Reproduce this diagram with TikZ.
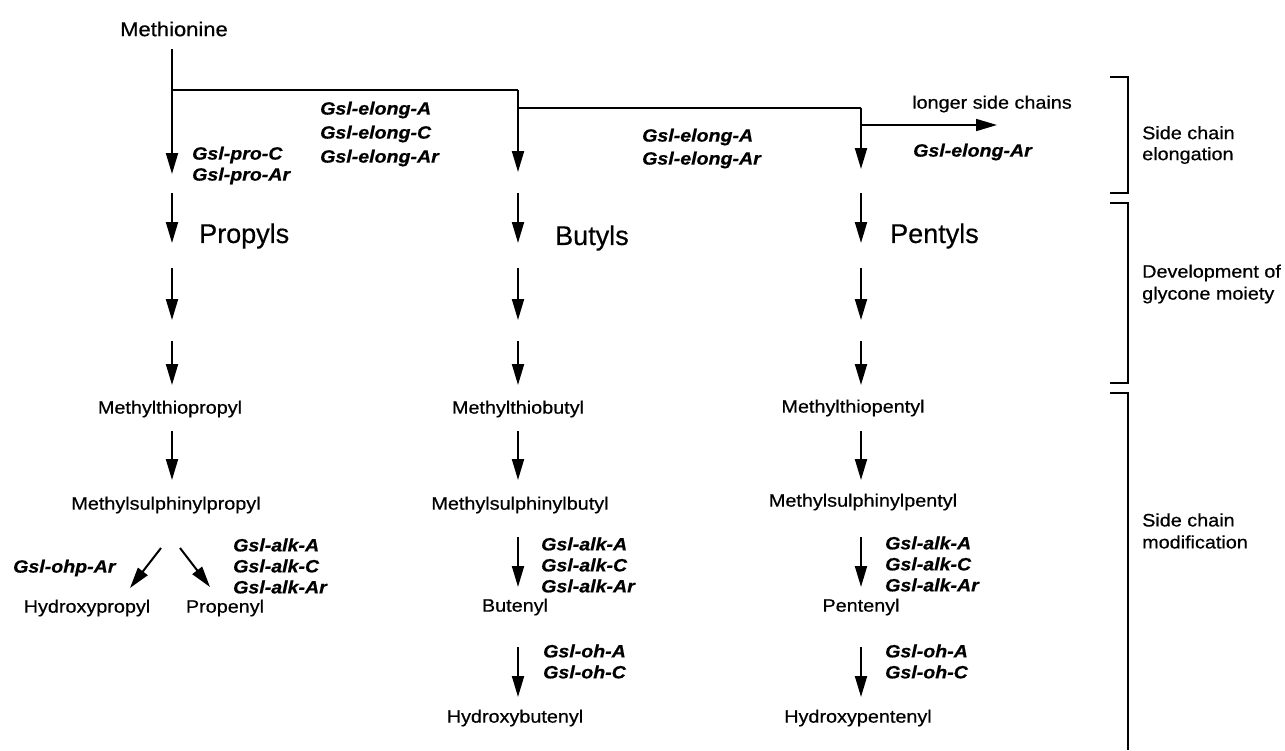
\documentclass[tikz,border=0pt]{standalone}
\usepackage{fontspec}
\setmainfont{Liberation Sans}
\newfontfamily\wide{Liberation Sans}[FakeStretch=1.1,FakeBold=0.6]
\newfontfamily\bigf{Liberation Sans}[FakeBold=0.4]
\usetikzlibrary{arrows.meta}
\tikzset{
  lbl/.style={inner sep=0pt, font=\wide\fontsize{18}{20}\selectfont},
  big/.style={inner sep=0pt, anchor=west, font=\bigf\fontsize{27}{30}\selectfont},
  gene/.style={inner sep=0pt, anchor=west, align=left, font=\wide\fontsize{17.8}{#1}\selectfont\bfseries\itshape},
  gene/.default=21,
  side/.style={inner sep=0pt, anchor=west, align=left, font=\wide\fontsize{18}{#1}\selectfont},
  side/.default=21,
  arr/.style={line width=2pt, -{Triangle[length=21pt,width=12pt]}},
  branch/.style={line width=1.7pt},
  brack/.style={line width=2pt},
}
\begin{document}
\begin{tikzpicture}[x=1pt,y=-1pt]
\useasboundingbox (0,0) rectangle (1285,750);
% texts
\node[lbl, font=\wide\fontsize{20}{22}\selectfont] (meth) at (174,29) {Methionine};
\node[big] (propyls) at (199,236) {Propyls};
\node[big] (butyls) at (555,238) {Butyls};
\node[big] (pentyls) at (890,236) {Pentyls};
\node[lbl] (mtp) at (170,409) {Methylthiopropyl};
\node[lbl] (mtb) at (518,409) {Methylthiobutyl};
\node[lbl] (mtpe) at (853,408) {Methylthiopentyl};
\node[lbl] (msp) at (166,505) {Methylsulphinylpropyl};
\node[lbl] (msb) at (520,505) {Methylsulphinylbutyl};
\node[lbl] (mspe) at (863,502) {Methylsulphinylpentyl};
\node[lbl] (hpr) at (87,608) {Hydroxypropyl};
\node[lbl] (pren) at (225,608) {Propenyl};
\node[lbl] (but) at (515,607) {Butenyl};
\node[lbl] (pent) at (861,607) {Pentenyl};
\node[lbl] (hbut) at (515,718) {Hydroxybutenyl};
\node[lbl] (hpent) at (858,718) {Hydroxypentenyl};
% gene labels
\node[gene] (pro) at (192,165.5) {Gsl-pro-C\\Gsl-pro-Ar};
\node[gene=24] (el1) at (320,134) {Gsl-elong-A\\Gsl-elong-C\\Gsl-elong-Ar};
\node[gene=23] (el2) at (642,148.5) {Gsl-elong-A\\Gsl-elong-Ar};
\node[lbl, anchor=west] (longer) at (912,104) {longer side chains};
\node[gene] (el3) at (913,152) {Gsl-elong-Ar};
\node[gene] (ohp) at (13,568) {Gsl-ohp-Ar};
\node[gene] (alk1) at (233,566) {Gsl-alk-A\\Gsl-alk-C\\Gsl-alk-Ar};
\node[gene] (alk2) at (541,565) {Gsl-alk-A\\Gsl-alk-C\\Gsl-alk-Ar};
\node[gene] (alk3) at (885,564) {Gsl-alk-A\\Gsl-alk-C\\Gsl-alk-Ar};
\node[gene] (oh2) at (543,661.5) {Gsl-oh-A\\Gsl-oh-C};
\node[gene] (oh3) at (885,661.5) {Gsl-oh-A\\Gsl-oh-C};
% bracket labels
\node[side=21] (s1) at (1142,145) {Side chain\\elongation};
\node[side=22] (s2) at (1142,284) {Development of\\glycone moiety};
\node[side=22] (s3) at (1142,531) {Side chain\\modification};
% coordinates
\coordinate (m0) at (172,49);
\coordinate (a1) at (172,174);
\coordinate (j1) at (172,90);
\coordinate (k1) at (518,90);
\coordinate (b1) at (518,172);
\coordinate (j2) at (518,108);
\coordinate (k2) at (861,108);
\coordinate (c1) at (861,169);
\coordinate (j3) at (861,125);
\coordinate (d1) at (997,125);
\foreach \c/\x in {A/172,B/518,C/861}{
  \coordinate (\c r2s) at (\x,193); \coordinate (\c r2e) at (\x,243);
  \coordinate (\c r3s) at (\x,268); \coordinate (\c r3e) at (\x,320);
  \coordinate (\c r4s) at (\x,341); \coordinate (\c r4e) at (\x,385);
  \coordinate (\c r5s) at (\x,431); \coordinate (\c r5e) at (\x,480);
}
\foreach \c/\x in {B/518,C/861}{
  \coordinate (\c r6s) at (\x,537); \coordinate (\c r6e) at (\x,587);
  \coordinate (\c r7s) at (\x,647); \coordinate (\c r7e) at (\x,697);
}
\coordinate (dl0) at (161,548); \coordinate (dl1) at (130,588);
\coordinate (dr0) at (180,548); \coordinate (dr1) at (210,587);
% connectors
\draw[arr] (m0) -- (a1);
\draw[branch] (j1) -- (k1);
\draw[arr] (k1) -- (b1);
\draw[branch] (j2) -- (k2);
\draw[arr] (k2) -- (c1);
\draw[arr, line width=1.7pt] (j3) -- (d1);
\foreach \c in {A,B,C}{
  \foreach \r in {2,3,4,5}{ \draw[arr] (\c r\r s) -- (\c r\r e); }
}
\foreach \c in {B,C}{
  \foreach \r in {6,7}{ \draw[arr] (\c r\r s) -- (\c r\r e); }
}
\draw[arr] (dl0) -- (dl1);
\draw[arr] (dr0) -- (dr1);
% brackets
\draw[brack] (1110,77) -- (1128,77) -- (1128,193) -- (1110,193);
\draw[brack] (1110,203) -- (1128,203) -- (1128,383) -- (1110,383);
\draw[brack] (1110,393) -- (1128,393) -- (1128,750);
\end{tikzpicture}
\end{document}
